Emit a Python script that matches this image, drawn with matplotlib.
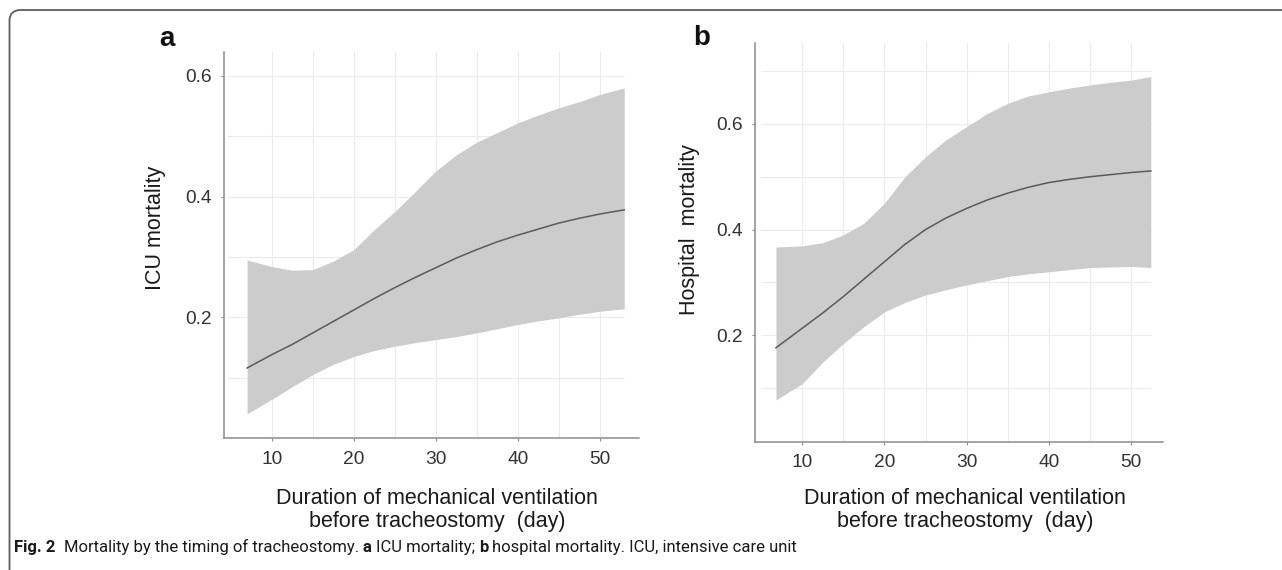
import matplotlib
matplotlib.use("Agg")
import matplotlib.pyplot as plt
from matplotlib.path import Path
from matplotlib.patches import PathPatch

# ---------------- data ----------------
days_a = [7, 10, 12.5, 15, 17.5, 20, 22.5, 25, 27.5, 30, 32.5, 35, 37.5, 40, 42.5, 45, 47.5, 50, 53]
icu_fit = [0.116, 0.138, 0.155, 0.174, 0.193, 0.212, 0.231, 0.249, 0.266, 0.282, 0.298, 0.312,
           0.325, 0.336, 0.346, 0.356, 0.364, 0.371, 0.378]
icu_upper = [0.295, 0.284, 0.278, 0.279, 0.293, 0.312, 0.345, 0.375, 0.408, 0.442, 0.469, 0.490,
             0.506, 0.522, 0.535, 0.547, 0.557, 0.569, 0.580]
icu_lower = [0.040, 0.064, 0.085, 0.105, 0.122, 0.135, 0.145, 0.152, 0.158, 0.163, 0.168, 0.174,
             0.181, 0.188, 0.194, 0.199, 0.205, 0.210, 0.214]

days_b = [6.8, 10, 12.5, 15, 17.5, 20, 22.5, 25, 27.5, 30, 32.5, 35, 37.5, 40, 42.5, 45, 47.5, 50, 52.4]
hosp_fit = [0.176, 0.213, 0.242, 0.273, 0.306, 0.339, 0.372, 0.400, 0.422, 0.440, 0.456, 0.469,
            0.480, 0.489, 0.495, 0.500, 0.504, 0.508, 0.511]
hosp_upper = [0.367, 0.369, 0.375, 0.390, 0.412, 0.450, 0.500, 0.538, 0.570, 0.595, 0.620, 0.639,
              0.653, 0.661, 0.668, 0.674, 0.679, 0.683, 0.690]
hosp_lower = [0.077, 0.108, 0.149, 0.184, 0.216, 0.244, 0.262, 0.276, 0.286, 0.295, 0.303, 0.311,
              0.316, 0.320, 0.324, 0.328, 0.329, 0.330, 0.328]

x_ticks = [10, 20, 30, 40, 50]
x_minor = [15, 25, 35, 45]
y_ticks = [0.2, 0.4, 0.6]
y_minor_a = [0.1, 0.3, 0.5]
y_minor_b = [0.1, 0.3, 0.5, 0.7]

ylabel_a = "ICU mortality"
ylabel_b = "Hospital  mortality"
xlabel_1 = "Duration of mechanical ventilation"
xlabel_2 = "before tracheostomy  (day)"
caption_parts = [("Fig. 2", "bold"), ("Mortality by the timing of tracheostomy.", "normal"),
                 ("a", "bold"), ("ICU mortality;", "normal"), ("b", "bold"),
                 ("hospital mortality. ICU, intensive care unit", "normal")]
caption_gaps = [2, 1, 1, 1, 1]  # number of spaces between parts

# ---------------- figure ----------------
W, H = 1282, 570
fig = plt.figure(figsize=(W / 100, H / 100), dpi=100)
fig.patch.set_facecolor("white")

FONT = ["Liberation Sans", "DejaVu Sans"]
CAP_FONT = ["Roboto", "DejaVu Sans"]


def fx(x):
    return x / W


def fy(y):
    return 1 - y / H


def make_axes(l, r, t, b):
    return fig.add_axes([fx(l), fy(b), fx(r) - fx(l), (b - t) / H])


ax_a = make_axes(224.3, 639, 51.7, 438)
ax_b = make_axes(755, 1162.7, 42.7, 441.7)

SPINE = "#8c8c8c"
GRID = "#ebebeb"
BAND = "#cccccc"
LINE = "#5a5a5a"


def style(ax, xs, fit, lo, hi, xlim, ylim, yminor, hstart):
    ax.set_xlim(*xlim)
    ax.set_ylim(*ylim)
    for s in ["top", "right"]:
        ax.spines[s].set_visible(False)
    for s in ["left", "bottom"]:
        ax.spines[s].set_color(SPINE)
        ax.spines[s].set_linewidth(1.1)
    ax.set_xticks(x_ticks)
    ax.set_yticks(y_ticks)
    ax.set_yticklabels([f"{v:.1f}" for v in y_ticks])
    ax.tick_params(axis="both", length=2.5, width=0.8, color=SPINE, labelsize=13.8,
                   labelcolor="#333333", pad=6.5)
    for lab in ax.get_xticklabels() + ax.get_yticklabels():
        lab.set_fontfamily(FONT)
    for v in x_ticks + x_minor:
        ax.axvline(v, color=GRID, lw=0.8, zorder=0)
    for v in y_ticks + yminor:
        ax.hlines(v, hstart, xs[-1], color=GRID, lw=0.8, zorder=0)
    ax.fill_between(xs, lo, hi, color=BAND, lw=0, zorder=1)
    ax.plot(xs, fit, color=LINE, lw=1.1, zorder=2, solid_joinstyle="round")


style(ax_a, days_a, icu_fit, icu_lower, icu_upper, (4.22, 54.8), (0.0, 0.64), y_minor_a, 4.5)
style(ax_b, days_b, hosp_fit, hosp_lower, hosp_upper, (4.25, 53.85), (-0.002, 0.754), y_minor_b, 5.0)

# axis titles
TXT = "#1a1a1a"
fig.text(fx(155), fy(228), ylabel_a, rotation=90, ha="center", va="center",
         fontsize=15.5, color=TXT, family=FONT)
fig.text(fx(690), fy(230), ylabel_b, rotation=90, ha="center", va="center",
         fontsize=15.5, color=TXT, family=FONT)
for cx in (437, 965):
    fig.text(fx(cx), fy(504), xlabel_1, ha="center", va="baseline", fontsize=15.5,
             color=TXT, family=FONT)
    fig.text(fx(cx), fy(527), xlabel_2, ha="center", va="baseline", fontsize=15.5,
             color=TXT, family=FONT)

# panel letters
fig.text(fx(167), fy(39), "a", ha="center", va="center", fontsize=20, fontweight="bold",
         color="#111111", family=FONT)
fig.text(fx(702), fy(38), "b", ha="center", va="center", fontsize=20, fontweight="bold",
         color="#111111", family=FONT)

# frame: left line, rounded corner, top line
bx, by, rad = 9.5, 10.0, 11.0
verts = [(fx(bx), fy(H + 2)), (fx(bx), fy(by + rad)), (fx(bx), fy(by)), (fx(bx + rad), fy(by)),
         (fx(W + 2), fy(by))]
codes = [Path.MOVETO, Path.LINETO, Path.CURVE3, Path.CURVE3, Path.LINETO]
fig.add_artist(PathPatch(Path(verts, codes), transform=fig.transFigure, fill=False,
                         edgecolor="#5c5c5c", lw=1.3))

# caption, laid out piece by piece
renderer = fig.canvas.get_renderer()
cap_x0, cap_base, cap_target = 14.0, 552.0, 783.0


def layout_caption(size, draw):
    probe = fig.text(0, 0, "n n", fontsize=size, family=CAP_FONT)
    probe2 = fig.text(0, 0, "nn", fontsize=size, family=CAP_FONT)
    space = probe.get_window_extent(renderer).width - probe2.get_window_extent(renderer).width
    probe.remove()
    probe2.remove()
    x = cap_x0
    arts = []
    for i, (s, w) in enumerate(caption_parts):
        t = fig.text(fx(x), fy(cap_base), s, fontsize=size, fontweight=w, family=CAP_FONT,
                     color="#1a1a1a", ha="left", va="baseline")
        wd = t.get_window_extent(renderer).width
        arts.append(t)
        x += wd
        if i < len(caption_gaps):
            x += space * caption_gaps[i]
    if not draw:
        for t in arts:
            t.remove()
    return x - cap_x0


w0 = layout_caption(12.0, False)
layout_caption(12.0 * cap_target / w0, True)

fig.savefig("out.png", dpi=100, facecolor="white")
